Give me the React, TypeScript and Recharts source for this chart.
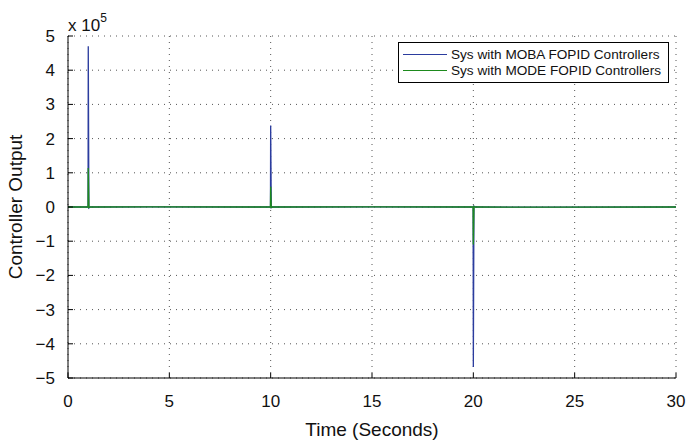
import { LineChart, Line, XAxis, YAxis, CartesianGrid, Legend } from 'recharts';

const timeTicks = [0, 5, 10, 15, 20, 25, 30];
const outputTicks = [-500000, -400000, -300000, -200000, -100000, 0, 100000, 200000, 300000, 400000, 500000];

const mobaTime = [0, 0.99, 1, 1.03, 1.1, 4, 9.99, 10, 10.03, 10.1, 15, 19.99, 20, 20.03, 20.1, 24, 30];
const mobaOutput = [0, 0, 470000, -3000, 0, 500, 0, 238000, -2000, 0, 300, 0, -468000, 2500, 0, -500, 0];

const modeTime = [0, 0.99, 1, 1.03, 1.1, 4, 9.99, 10, 10.03, 10.1, 15, 19.99, 20, 20.03, 20.1, 24, 30];
const modeOutput = [0, 0, 114000, -1500, 0, 300, 0, 59000, -1000, 0, 200, 0, -110000, 1500, 0, -300, 0];

const BLUE = '#2b3c9e';
const GREEN = '#1d8a1d';
const FONT = '"Liberation Sans", Arial, Helvetica, sans-serif';

const mobaData = mobaTime.map((t, i) => ({ t, v: mobaOutput[i] }));
const modeData = modeTime.map((t, i) => ({ t, v: modeOutput[i] }));

const fmtY = (v: number) => {
  const n = Math.round(v / 100000);
  return n < 0 ? '\u2212' + Math.abs(n) : String(n);
};

function LegendBox() {
  const rows = [
    { name: 'Sys with MOBA FOPID Controllers', color: BLUE },
    { name: 'Sys with MODE FOPID Controllers', color: GREEN },
  ];
  return (
    <div style={{ border: '1px solid #000', background: '#fff', padding: '3px 4px 3px 4px', fontFamily: FONT, fontSize: 13.6, color: '#111', width: 261 }}>
      {rows.map((r) => (
        <div key={r.name} style={{ display: 'flex', alignItems: 'center', height: 16.5 }}>
          <span style={{ display: 'inline-block', width: 44, height: 0, borderTop: `1.3px solid ${r.color}`, marginRight: 4 }} />
          <span>{r.name}</span>
        </div>
      ))}
    </div>
  );
}

export default function App() {
  return (
    <div style={{ position: 'absolute', left: 0, top: 0, width: 686, height: 442, background: '#fff', fontFamily: FONT }}>
      <LineChart width={686} height={442} margin={{ top: 36, right: 10, left: 0, bottom: 0 }}>
        <CartesianGrid stroke="#555" strokeDasharray="1 5" />
        <XAxis
          type="number"
          dataKey="t"
          domain={[0, 30]}
          ticks={timeTicks}
          allowDataOverflow
          height={64}
          stroke="#000"
          tickSize={-5}
          tickMargin={22}
          tick={{ fill: '#111', fontSize: 17, fontFamily: FONT }}
          label={{ value: 'Time (Seconds)', position: 'insideBottom', offset: 6, fill: '#111', fontSize: 19, fontFamily: FONT }}
        />
        <XAxis
          xAxisId="top"
          orientation="top"
          type="number"
          domain={[0, 30]}
          ticks={timeTicks}
          height={0}
          stroke="#000"
          tickSize={-5}
          tickFormatter={() => ''}
        />
        <YAxis
          type="number"
          domain={[-500000, 500000]}
          ticks={outputTicks}
          allowDataOverflow
          width={68}
          stroke="#000"
          tickSize={-5}
          tickMargin={18}
          tickFormatter={fmtY}
          tick={{ fill: '#111', fontSize: 17, fontFamily: FONT }}
          label={{ value: 'Controller Output', angle: -90, position: 'insideLeft', offset: 15, textAnchor: 'middle', fill: '#111', fontSize: 19, fontFamily: FONT }}
        />
        <YAxis
          yAxisId="right"
          orientation="right"
          type="number"
          domain={[-500000, 500000]}
          ticks={outputTicks}
          width={0}
          stroke="#000"
          tickSize={-5}
          tickFormatter={() => ''}
        />
        <Legend
          layout="vertical"
          verticalAlign="middle"
          align="center"
          wrapperStyle={{ position: 'absolute', left: 398, top: 42, width: 271 }}
          content={() => <LegendBox />}
        />
        <Line data={mobaData} dataKey="v" type="linear" stroke={BLUE} strokeWidth={1.3} dot={false} isAnimationActive={false} />
        <Line data={modeData} dataKey="v" type="linear" stroke={GREEN} strokeWidth={1.3} dot={false} isAnimationActive={false} />
      </LineChart>
      <div style={{ position: 'absolute', left: 68, top: 11, fontSize: 17, color: '#111', fontFamily: FONT, lineHeight: '18px' }}>
        x 10<sup style={{ fontSize: 12, position: 'relative', top: -2 }}>5</sup>
      </div>
    </div>
  );
}
